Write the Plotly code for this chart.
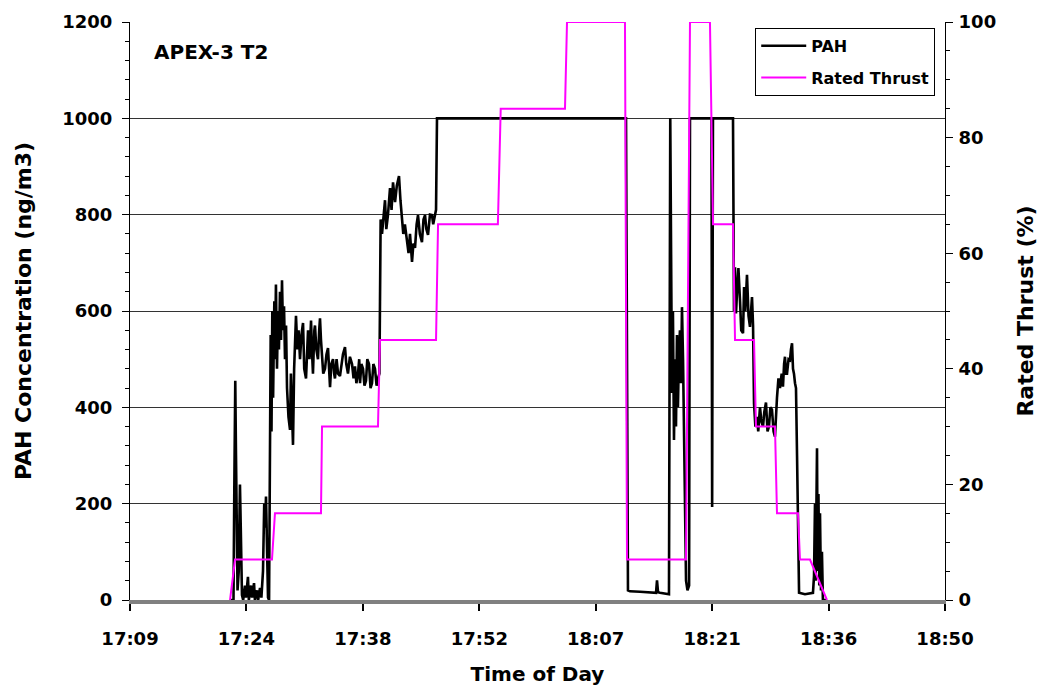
import plotly.graph_objects as go

# ---------------- data (time in minutes after midnight) ----------------
tick_labels = ["17:09", "17:24", "17:38", "17:52", "18:07", "18:21", "18:36", "18:50"]
tick_minutes = [1029.6, 1044.0, 1058.4, 1072.8, 1087.2, 1101.6, 1116.0, 1130.4]

pah_time = [
    1041.97, 1042.40, 1042.50, 1042.62, 1042.71, 1042.80, 1042.90, 1043.05, 1043.20, 1043.30,
    1043.45, 1043.60, 1043.82, 1043.95, 1044.19, 1044.30, 1044.57, 1044.70, 1044.94, 1045.05,
    1045.31, 1045.45, 1045.68, 1045.85, 1046.05, 1046.20, 1046.30, 1046.42, 1046.55, 1046.67,
    1046.80, 1046.92, 1047.00, 1047.10, 1047.20, 1047.30, 1047.45, 1047.53, 1047.65, 1047.78,
    1047.90, 1048.02, 1048.15, 1048.28, 1048.40, 1048.52, 1048.65, 1048.77, 1048.90, 1049.02,
    1049.20, 1049.39, 1049.50, 1049.62, 1049.76, 1049.90, 1050.13, 1050.30, 1050.45, 1050.63,
    1050.80, 1051.00, 1051.15, 1051.37, 1051.50, 1051.62, 1051.80, 1051.99, 1052.10, 1052.23,
    1052.40, 1052.48, 1052.65, 1052.85, 1053.00, 1053.10, 1053.22, 1053.35, 1053.50, 1053.72,
    1053.90, 1054.09, 1054.20, 1054.34, 1054.50, 1054.71, 1054.85, 1054.95, 1055.15, 1055.33,
    1055.57, 1055.75, 1055.94, 1056.19, 1056.35, 1056.56, 1056.80, 1057.06, 1057.25, 1057.43,
    1057.60, 1057.80, 1057.95, 1058.05, 1058.22, 1058.42, 1058.60, 1058.79, 1058.95, 1059.16,
    1059.35, 1059.53, 1059.70, 1059.90, 1060.10, 1060.27, 1060.45, 1060.52, 1060.60, 1060.77,
    1060.95, 1061.14, 1061.30, 1061.51, 1061.76, 1061.95, 1062.13, 1062.38, 1062.60, 1062.87,
    1063.05, 1063.24, 1063.40, 1063.60, 1063.86, 1064.05, 1064.23, 1064.48, 1064.65, 1064.85,
    1065.05, 1065.22, 1065.45, 1065.71, 1065.90, 1066.09, 1066.25, 1066.46, 1066.70, 1066.95,
    1067.10, 1067.32, 1067.45, 1067.57, 1090.95, 1091.19, 1091.44, 1092.68, 1093.92, 1094.66,
    1094.78, 1094.91, 1095.15, 1096.26, 1096.42, 1096.55, 1096.63, 1096.75, 1096.88, 1097.00,
    1097.13, 1097.25, 1097.37, 1097.50, 1097.62, 1097.75, 1097.87, 1098.00, 1098.12, 1098.25,
    1098.37, 1098.55, 1098.75, 1098.86, 1101.52, 1101.60, 1101.70, 1104.18, 1104.30, 1104.43,
    1104.55, 1104.68, 1104.85, 1105.05, 1105.20, 1105.42, 1105.55, 1105.70, 1105.91, 1106.10,
    1106.28, 1106.53, 1106.66, 1106.78, 1106.95, 1107.15, 1107.30, 1107.52, 1107.70, 1107.89,
    1108.05, 1108.26, 1108.45, 1108.63, 1108.80, 1109.00, 1109.20, 1109.37, 1109.50, 1109.62,
    1109.80, 1109.99, 1110.20, 1110.36, 1110.50, 1110.61, 1110.75, 1110.86, 1111.05, 1111.23,
    1111.35, 1111.48, 1111.60, 1111.72, 1111.85, 1111.97, 1112.10, 1112.22, 1112.35, 1113.08,
    1113.70, 1114.07, 1114.20, 1114.32, 1114.40, 1114.50, 1114.57, 1114.65, 1114.75, 1114.85,
    1114.94, 1115.06, 1115.18, 1115.30, 1115.80,
]
pah_value = [
    0, 0, 230, 455, 300, 120, 20, 60, 240, 150,
    10, 0, 30, 5, 48, 0, 30, 5, 35, 0,
    20, 0, 25, 5, 60, 200, 150, 215, 100, 5,
    0, 300, 550, 350, 600, 420, 620, 500, 655, 480,
    600, 520, 640, 540, 664, 560, 610, 500, 570, 440,
    380, 353, 470, 400, 322, 480, 590, 520, 560, 500,
    550, 575, 480, 460, 540, 560, 500, 580, 520, 470,
    560, 570, 520, 500, 560, 585, 540, 498, 470, 480,
    510, 523, 480, 442, 490, 500, 470, 460, 500, 470,
    465, 490, 510, 525, 490, 470, 505, 490, 460, 485,
    450, 470, 500, 450, 490, 480, 445, 455, 500, 490,
    440, 450, 490, 480, 445, 460, 470, 620, 790, 760,
    800, 830, 770, 800, 855, 810, 867, 826, 860, 880,
    830, 799, 760, 780, 737, 720, 760, 702, 740, 731,
    780, 799, 760, 743, 790, 799, 770, 758, 800, 799,
    780, 800, 810, 1000, 1000, 20, 18, 17, 15, 15,
    41, 16, 15, 12, 1000, 520, 430, 600, 332, 500,
    360, 550, 400, 520, 560, 450, 608, 500, 330, 150,
    40, 20, 30, 1000, 1000, 193, 1000, 1000, 600, 691,
    595, 640, 689, 620, 560, 554, 650, 600, 675, 590,
    567, 629, 570, 408, 360, 380, 350, 400, 370, 360,
    390, 410, 350, 360, 400, 395, 350, 339, 390, 420,
    460, 440, 470, 443, 490, 505, 470, 470, 500, 498,
    520, 533, 480, 470, 450, 440, 300, 100, 15, 12,
    14, 15, 50, 200, 40, 250, 315, 60, 220, 30,
    180, 20, 100, 0, 0,
]

thrust_time = [
    1041.97, 1042.59, 1047.16, 1047.53, 1053.22, 1053.35, 1060.27, 1060.52, 1067.45, 1067.70,
    1075.10, 1075.45, 1083.40, 1083.65, 1090.82, 1091.07, 1098.37, 1098.86, 1101.33, 1101.71,
    1104.18, 1104.43, 1106.78, 1107.02, 1109.37, 1109.62, 1112.22, 1112.46, 1113.70, 1115.80,
]
thrust_value = [
    0, 7, 7, 15, 15, 30, 30, 45, 45, 65,
    65, 85, 85, 100, 100, 7, 7, 100, 100, 65,
    65, 45, 45, 30, 30, 15, 15, 7, 7, 0,
]

# ---------------- figure ----------------
FONT = "DejaVu Sans"
fig = go.Figure()
fig.add_trace(go.Scatter(
    x=pah_time, y=pah_value, name="PAH", mode="lines",
    line=dict(color="black", width=2.6), legendgroup="a", yaxis="y",
))
fig.add_trace(go.Scatter(
    x=thrust_time, y=thrust_value, name="Rated Thrust", mode="lines",
    line=dict(color="#FF00FF", width=2), legendgroup="b", yaxis="y2",
))

tickfont = dict(family=FONT, size=18, color="black", weight="bold")
fig.update_layout(
    width=1037, height=681,
    margin=dict(l=122, r=100, t=14, b=89, autoexpand=False),
    paper_bgcolor="white", plot_bgcolor="white",
    showlegend=True,
    legend=dict(
        x=0.988, y=0.99, xanchor="right", yanchor="top",
        bgcolor="white", bordercolor="black", borderwidth=1,
        font=dict(family=FONT, size=16, color="black", weight="bold"),
        tracegroupgap=8, itemwidth=45,
    ),
    xaxis=dict(
        automargin=False,
        range=[tick_minutes[0], tick_minutes[-1]],
        tickmode="array", tickvals=tick_minutes, ticktext=tick_labels,
        ticks="outside", ticklen=7, tickcolor="black", tickwidth=1.5,
        ticklabelstandoff=12,
        showgrid=False, zeroline=False,
        showline=True, linecolor="#808080", linewidth=4,
        tickfont=tickfont,
        title=dict(text="Time of Day", font=dict(family=FONT, size=20, color="black", weight="bold"), standoff=20),
    ),
    yaxis=dict(
        automargin=False,
        range=[0, 1200], dtick=200, tick0=0,
        ticks="outside", ticklen=7, tickcolor="black",
        ticklabelstandoff=6,
        minor=dict(dtick=40, ticks="outside", ticklen=4, tickcolor="black", showgrid=False),
        showgrid=True, gridcolor="#333333", gridwidth=1,
        zeroline=False, showline=True, linecolor="black", linewidth=1,
        tickfont=tickfont,
        title=dict(text="PAH Concentration (ng/m3)", font=dict(family=FONT, size=22, color="black", weight="bold"), standoff=24),
    ),
    yaxis2=dict(
        automargin=False,
        range=[0, 100], dtick=20, tick0=0, overlaying="y", side="right",
        ticks="outside", ticklen=7, tickcolor="black",
        ticklabelstandoff=2,
        minor=dict(dtick=5, ticks="outside", ticklen=4, tickcolor="black", showgrid=False),
        showgrid=False, zeroline=False, showline=True, linecolor="black", linewidth=1,
        tickfont=tickfont,
        title=dict(text="Rated Thrust (%)", font=dict(family=FONT, size=22, color="black", weight="bold"), standoff=22),
    ),
    annotations=[dict(
        text="APEX-3 T2", xref="paper", yref="paper", x=0.027, y=0.948,
        xanchor="left", yanchor="middle", showarrow=False,
        font=dict(family=FONT, size=20, color="black", weight="bold"),
    )],
)

fig.write_html("out.html")
